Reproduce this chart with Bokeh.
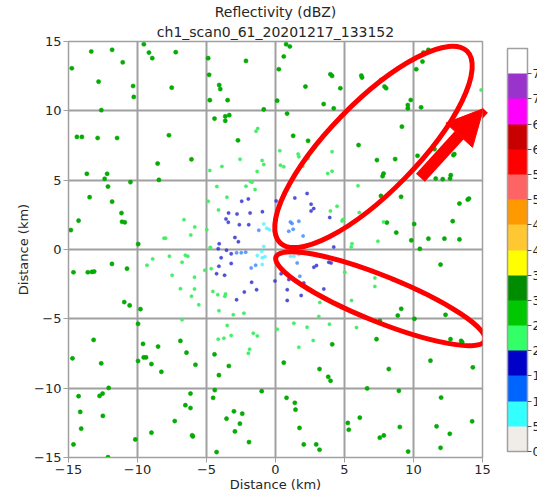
from bokeh.plotting import figure
from bokeh.models import (LinearColorMapper, ColorBar, FixedTicker,
                          Title, Arrow, NormalHead, Range1d)
from bokeh.embed import file_html
from bokeh.resources import INLINE

# ---------------- data ----------------
title_main = "Reflectivity (dBZ)"
title_sub = "ch1_scan0_61_20201217_133152"
axis_label = "Distance (km)"
axis_ticks = [-15, -10, -5, 0, 5, 10, 15]
cbar_ticks = [0, 5, 10, 15, 20, 25, 30, 35, 40, 45, 50, 55, 60, 65, 70, 75]
cbar_low, cbar_high = 0, 80
cbar_colors = ["#f0ece8", "#33ffff", "#0064ff", "#0000c8", "#33ff66", "#00c800",
               "#008c00", "#ffff00", "#ffc832", "#ff9900", "#ff6464", "#ff0000",
               "#c80000", "#ff00ff", "#9933cc", "#ffffff"]

# 25-30 dBZ
green_x = [-13.35, -11.84, -11.07, -14.76, -12.82, -10.32, -10.27, -12.62, -9.54, -9.17, -8.93, -7.23, -7.52,
           -4.88, -2.14, -4.81, -4.08, -4.0, -4.76, -3.47, -0.85, -4.42, -3.64, -3.35, -3.64, -14.39, -14.03,
           -12.89, -11.48, -7.72, -13.67, -12.2, -12.38, -12.14, -10.51, -13.47, -11.84, -14.27, -14.83, -11.16,
           -11.12, -10.92, -6.09, -8.54, -8.45, -2.72, -9.95,
           0.77, 1.04, 0.6, 0.24, 3.98, 4.1, 2.17, 4.7, 0.12, 3.49, 4.22, 0.84, 6.27, 6.22, 7.66, 7.9, 8.02,
           10.72, 11.08, 10.65, 10.2, 9.8, 9.59, 9.59, 10.55, 9.16, 6.02, 7.35, 8.67, 7.83, 7.76, 10.29, 11.52,
           12.89, 12.96, 11.61, 12.12, 12.65, 12.7, 13.93, 14.02, 13.33, 12.84, 9.1, 10.05, 9.84, 11.08, 12.24,
           13.33, 8.75, 8.07, 7.64, 1.28, 2.36,
           -14.64, -13.6, -13.3, -13.14, -11.85, -10.76, -10.96, -10.57, -9.79, -9.96, -13.18, -9.6, -8.51,
           -6.89, -14.71, -12.63, -9.96, -9.55, -9.38, -8.99, -8.27, -6.45, -5.8, -12.09, -12.75, -12.53, -14.27,
           -14.15, -12.51, -14.08, -14.64, -12.14, -10.16, -8.99, -7.3, -6.53, -6.16, -6.16, -5.99, -6.04, -4.52,
           -4.4, -4.27, -3.01, -2.41, -3.55, -2.58, -2.94, -1.92, -1.0, -4.1, -3.38, -4.42,
           10.46, 11.96, 8.57, 9.11, 8.86, 12.32, 7.56, 10.07, 7.32, 12.68, 13.45, 13.53, 4.11, 11.23, 14.3,
           8.21, 3.19, 3.82, 3.99, 6.64, 8.94, 12.0, 0.8, 1.4, 1.45, 6.11, 5.24, 5.31, 9.01, 11.67, 14.25, 12.63,
           7.56, 7.85, 1.74, 2.05, 2.95, 3.19, 9.61, 11.96, 0.6]
green_y = [14.28, 14.4, 13.5, 13.07, 12.1, 11.79, 11.0, 10.05, 14.8, 14.2, 13.8, 14.23, 11.67,
           13.8, 13.6, 12.6, 11.86, 11.57, 10.77, 10.77, 10.1, 9.44, 9.6, 9.69, 9.28, 8.12, 8.12,
           8.04, 8.04, 8.24, 5.46, 5.46, 5.1, 4.54, 4.86, 3.77, 3.45, 2.08, 1.4, 2.63,
           2.0, 1.96, 6.5, 6.2, 5.02, 7.87, 0.39,
           14.8, 14.64, 13.92, 13.0, 12.64, 12.52, 11.75, 11.63, 10.73, 10.49, 10.18, 9.8, 12.4, 12.54, 12.23,
           11.75, 11.63, 14.2, 14.4, 13.55, 13.0, 10.78, 10.42, 10.18, 10.25, 8.86, 7.53, 6.45, 6.52, 5.48, 5.29,
           6.76, 7.24, 6.81, 6.88, 5.12, 5.07, 5.12, 5.36, 3.6, 3.67, 3.31, 2.04, 3.8, 1.84, 0.66, 0.78, 0.78,
           0.73, 1.22, 1.94, 3.86, 8.2, 7.84,
           -1.64, -1.64, -1.62, -1.59, -1.04, -1.38, -3.79, -4.03, -4.3, -5.36, -6.52, -6.81, -7.0,
           -6.59, -7.85, -8.21, -8.04, -7.78, -7.78, -8.26, -8.82, -7.44, -8.31, -9.98, -10.56, -10.39, -10.58,
           -11.71, -12.0, -12.92, -14.06, -14.98, -13.7, -13.21, -12.37, -11.23, -11.43, -10.39, -13.48, -13.4,
           -10.7, -10.14, -14.61, -11.67, -11.84, -12.2, -12.56, -13.12, -13.89, -10.22, -9.06, -8.4, -7.56,
           0.05, -1.09, -2.17, -4.28, -4.76, -4.71, -5.14, -5.0, -6.47, -6.47, -6.59, -6.69, -6.84, -8.02, -8.5,
           -8.62, -8.62, -9.18, -9.47, -10.02, -10.19, -10.68, -10.7, -11.06, -11.55, -12.13, -12.51, -13.0,
           -12.8, -12.75, -12.39, -13.29, -13.57, -13.41, -12.87, -14.06, -14.06, -14.44, -14.57, -14.3, -8.16]

# 20-25 dBZ
lgreen_x = [-1.41, -1.29, -4.76, -3.88, -2.57, -0.97, -0.85, -1.33, -4.25, -3.52, -2.14, -1.82, -1.7, -1.48,
            -4.13, -6.63, -5.85, -6.14, -8.08, -7.96, -4.73, -4.88, -4.98,
            0.31, 1.64, 1.69, 2.89, 2.36, 1.98, 0.36, 0.6, 4.1, 3.78, 4.1, 5.98, 4.46, 3.98, 4.82, 4.89, 6.07,
            7.83, 5.54, 5.49, 7.42, 14.9,
            -8.9, -9.31, -7.69, -6.53, -6.36, -6.77, -5.12, -4.66, -7.49, -5.87, -6.89, -5.87, -6.09, -5.56,
            -4.54, -4.18, -3.67, -3.62, -4.1, -3.06, -2.29, -3.5, -4.15, -3.74, -3.21, -1.61, -1.32, -1.88,
            -1.97, -4.71, -6.77,
            7.2, 7.2, 5.02, 5.51, 3.21, 3.14, 1.33, 2.29, 3.91, 5.87, 2.73, 1.69, 0.12]
lgreen_y = [8.53, 8.72, 5.7, 5.99, 6.5, 6.42, 6.13, 5.63, 4.54, 3.77, 4.56, 4.9, 4.85, 4.32,
            2.85, 2.15, 1.62, 1.04, 0.82, 0.82, 0.14, 3.48, 1.42,
            7.12, 6.88, 6.69, 7.36, 6.57, 6.01, 6.08, 5.96, 7.05, 5.48, 5.65, 4.59, 3.12, 2.78, 2.06, 2.16, 2.66,
            1.99, 0.42, 0.18, 0.59, 11.5,
            -0.68, -1.14, -0.48, -0.41, -0.48, -0.92, -1.5, -1.38, -1.86, -2.0, -2.83, -2.85, -3.38, -3.99,
            -3.02, -3.26, -3.38, -3.21, -4.42, -4.71, -4.59, -5.48, -6.47, -6.4, -6.21, -6.04, -6.23, -7.2,
            -7.49, 0.12, -5.07,
            -2.05, -2.66, -1.64, -3.67, -3.82, -4.83, -5.31, -5.6, -5.39, -5.63, -6.57, -7.05, -5.75]

# 15-20 dBZ
dblue_x = [-2.45, -1.97, -3.4, -2.79, -1.84, -0.95, -3.59, -3.42, -2.62, -1.94, -2.94, -2.69, -4.08,
           2.29, 1.4, 2.58, 2.77, 2.58, 3.93, 0.05, 4.22,
           -4.15, -3.55, -3.94, -3.21, -4.1, -4.27, -3.69, -3.21, -1.73, -2.26, -2.82, -1.37, -0.04,
           2.97, 2.78, 3.86, 4.03, 3.5, 2.05, 0.85, 1.86, 0.85, 0.41, 0.97]
dblue_y = [3.48, 3.65, 2.63, 2.56, 2.63, 2.73, 2.2, 1.96, 1.79, 1.79, 0.87, 0.56, 0.41,
           4.04, 3.72, 3.27, 2.95, 2.78, 2.3, 3.5, 0.18,
           0.05, -0.05, -0.6, -0.31, -1.21, -1.74, -1.86, -1.01, -2.37, -3.07, -3.62, -2.9, -2.27,
           -1.16, -1.28, -0.92, -0.97, -2.85, -2.42, -2.9, -3.31, -3.67, -1.74, -2.17]

# 10-15 dBZ
blue_x = [-1.21, 1.08, 1.2, 1.69, 0.96, 1.28, 2.0, -2.82, -2.48, -2.16, -1.76, -1.44, 1.57, 1.76]
blue_y = [1.38, 1.99, 1.87, 2.04, 1.31, 1.46, 0.98, -0.24, -0.24, -0.19, -1.33, -1.14, -0.97, -1.93]

# 5-10 dBZ
cyan_x = [-0.85, -0.63, -0.44, -0.85, -1.32, -0.96, -0.76, -1.0, -0.96, 1.09, 1.33, 1.69]
cyan_y = [1.84, 1.53, 1.43, 0.22, -0.43, -0.6, -0.53, -0.12, -1.09, -0.48, -0.48, -0.36]

# annotations (hand-drawn highlight shapes)
ell_x = [7.10, 7.60]
ell_y = [7.40, -3.55]
ell_w = [19.4, 16.3]
ell_h = [6.4, 3.3]
ell_angle = [45.7, -21.9]
arrow_start = (10.5, 5.17)
arrow_end = (15.07, 10.16)

# ---------------- plot ----------------
FONT = "DejaVu Sans"
GRID = "#a0a0a0"
TXT = "#262626"

p = figure(width=537, height=494, output_backend="svg", toolbar_location=None,
           x_range=Range1d(-15, 15), y_range=Range1d(-15, 15),
           min_border_left=68, min_border_right=55, min_border_top=0, min_border_bottom=0)
p.background_fill_color = "white"
p.border_fill_color = "white"
p.outline_line_color = GRID
p.outline_line_width = 1.5

p.title.text = title_main
p.title.align = "center"
p.title.text_font = FONT
p.title.text_font_size = "14px"
p.title.text_font_style = "normal"
p.title.text_color = TXT
p.title.standoff = 2
p.add_layout(Title(text=title_sub, align="center", text_font=FONT, text_font_size="14px",
                   text_font_style="normal", text_color=TXT, standoff=3), "above")

minus = {t: ("\u2212" + str(abs(t)) if t < 0 else str(t)) for t in axis_ticks}
for ax in (p.xaxis[0], p.yaxis[0]):
    ax.ticker = FixedTicker(ticks=axis_ticks)
    ax.major_label_overrides = minus
    ax.axis_label = axis_label
    ax.axis_label_text_font = FONT
    ax.axis_label_text_font_size = "13px"
    ax.axis_label_text_font_style = "normal"
    ax.axis_label_text_color = TXT
    ax.major_label_text_font = FONT
    ax.major_label_text_font_size = "13px"
    ax.major_label_text_color = TXT
    ax.axis_line_color = GRID
    ax.major_tick_line_color = GRID
    ax.major_tick_in = 0
    ax.major_tick_out = 5
    ax.minor_tick_line_color = None
    ax.major_label_standoff = 2
    ax.axis_label_standoff = 0

p.xgrid.ticker = FixedTicker(ticks=axis_ticks)
p.ygrid.ticker = FixedTicker(ticks=axis_ticks)
p.grid.grid_line_color = GRID
p.grid.grid_line_width = 2

p.scatter(green_x, green_y, size=4.2, fill_color="#00b000", line_color="#009a00", line_width=0.5)
p.scatter(lgreen_x, lgreen_y, size=3.5, fill_color="#44ee66", line_color="#44ee66", line_width=0.3)
p.scatter(dblue_x, dblue_y, size=3.5, fill_color="#3434d0", line_color="#3434d0", line_width=0.3,
          alpha=0.85)
p.scatter(blue_x, blue_y, size=3.5, fill_color="#3c82ff", line_color="#3c82ff", line_width=0.3, alpha=0.8)
p.scatter(cyan_x, cyan_y, size=3.5, fill_color="#50f0ff", line_color="#50f0ff", line_width=0.3, alpha=0.8)

p.ellipse(x=ell_x, y=ell_y, width=ell_w, height=ell_h, angle=ell_angle, angle_units="deg",
          fill_color=None, line_color="#ff0000", line_width=5)

p.add_layout(Arrow(x_start=arrow_start[0], y_start=arrow_start[1], x_end=arrow_end[0], y_end=arrow_end[1],
                   line_color="#ff0000", line_width=12,
                   end=NormalHead(size=36, fill_color="#ff0000", line_color="#ff0000")))

mapper = LinearColorMapper(palette=cbar_colors, low=cbar_low, high=cbar_high)
cb = ColorBar(color_mapper=mapper, ticker=FixedTicker(ticks=cbar_ticks), width=20, height=403,
              location=(439, 6), padding=0, margin=0, bar_line_color=GRID, bar_line_width=1.5,
              major_tick_in=0, major_tick_out=4, major_tick_line_color="#555555",
              major_label_text_font=FONT, major_label_text_font_size="12px",
              major_label_text_color=TXT, label_standoff=1,
              background_fill_alpha=0, border_line_color=None)
p.add_layout(cb, "center")

open("out.html", "w").write(file_html(p, INLINE))
